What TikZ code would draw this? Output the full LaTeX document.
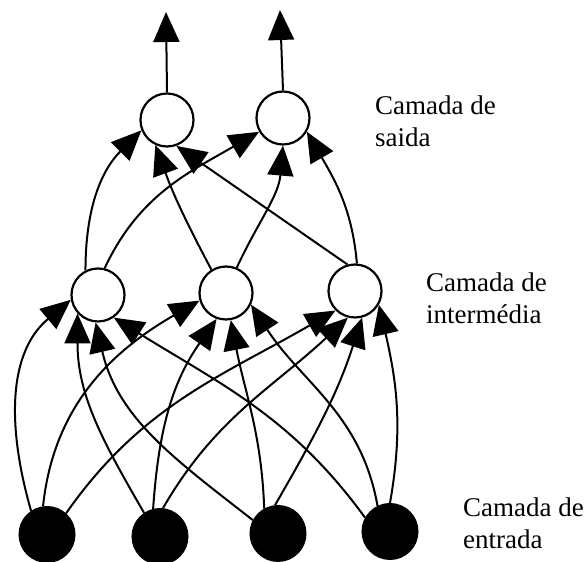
\documentclass[tikz,border=0pt]{standalone}
\usepackage{fontspec}
\setmainfont{Liberation Serif}
\usetikzlibrary{arrows.meta}
\begin{document}
\begin{tikzpicture}[x=1pt,y=1pt,
  neuron/.style={circle,draw=black,line width=2.2pt,fill=white,inner sep=0pt,minimum size=53pt},
  inneuron/.style={circle,draw=black,line width=2pt,fill=black,inner sep=0pt,minimum size=55pt},
  conn/.style={line width=2pt,-{Triangle[length=30pt,width=26pt]}},
  lbl/.style={anchor=base west,inner sep=0pt,font=\fontsize{27}{32}\selectfont}]
\path[use as bounding box] (0,0) rectangle (587,562);
% nodes
\node[neuron] (O1) at (167,442) {};
\node[neuron] (O2) at (283,444) {};
\node[neuron] (H1) at (98,267) {};
\node[neuron] (H2) at (226,269) {};
\node[neuron] (H3) at (355,271) {};
\node[inneuron] (I1) at (47,27.5) {};
\node[inneuron] (I2) at (160,25.5) {};
\node[inneuron] (I3) at (278,28.5) {};
\node[inneuron] (I4) at (390,30.5) {};
\coordinate (T1) at (166,550);
\coordinate (T2) at (280,552);
% input -> hidden
\draw[conn] (I1.124) to[out=106,in=220] (H1.190);
\draw[conn] (I2.124) to[out=120,in=270] (H1.222);
\draw[conn] (I3.152) to[out=142,in=283] (H1.265);
\draw[conn] (I4.151) to[out=126,in=328] (H1.305);
\draw[conn] (I1.98) to[out=84,in=210] (H2.196);
\draw[conn] (I2.104) to[out=86,in=235] (H2.250);
\draw[conn] (I3.119) to[out=92,in=281] (H2.280);
\draw[conn] (I4.116) to[out=100,in=303] (H2.335);
\draw[conn] (I1.48) to[out=55,in=210] (H3.225);
\draw[conn] (I2.84) to[out=60,in=223] (H3.255);
\draw[conn] (I3.96) to[out=60,in=252] (H3.285);
\draw[conn] (I4.90) to[out=80,in=283] (H3.330);
% hidden -> output
\draw[conn] (H1.117) to[out=90,in=225] (O1.202);
\draw[conn] (H1.76) to[out=65,in=210] (O2.210);
\draw[conn] (H2.122) to[out=118,in=290] (O1.245);
\draw[conn] (H2.67) to[out=65,in=265] (O2.270);
\draw[conn] (H3.106) -- (O1.290);
\draw[conn] (H3.86) to[out=95,in=300] (O2.330);
% outputs
\draw[conn] (O1.north) -- (T1);
\draw[conn] (O2.north) -- (T2);
% labels
\node[lbl] (LO1) at (375,447) {Camada de};
\node[lbl] (LO2) at (375,415) {saida};
\node[lbl] (LH1) at (426,270) {Camada de};
\node[lbl] (LH2) at (426,238) {intermédia};
\node[lbl] (LI1) at (463,45) {Camada de};
\node[lbl] (LI2) at (463,13) {entrada};
\end{tikzpicture}
\end{document}
